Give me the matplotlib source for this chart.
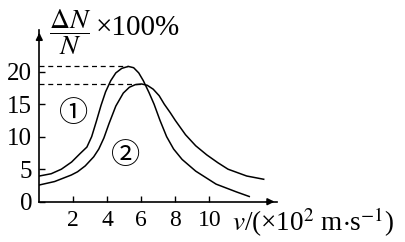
import matplotlib.pyplot as plt

plt.rcParams['font.family'] = ['Liberation Serif', 'DejaVu Serif']
plt.rcParams['mathtext.fontset'] = 'stix'

# values (v in 10^2 m/s, share in %)
v1 = [0, 0.7, 1.3, 1.9, 2.4, 2.8, 3.08, 3.35, 3.63, 3.9, 4.2, 4.5, 4.85, 5.24,
      5.55, 5.85, 6.12, 6.45, 6.75, 7.1, 7.49, 7.9, 8.4, 9.2, 10.4, 11.6, 12.35]
f1 = [3.95, 4.3, 5.0, 6.1, 7.4, 8.4, 10.0, 12.3, 14.8, 16.9, 18.6, 19.8, 20.5, 20.8,
      20.6, 19.8, 18.6, 16.8, 15.0, 12.5, 10.0, 8.1, 6.5, 4.7, 2.7, 1.5, 0.8]

v2 = [0, 0.9, 1.88, 2.25, 2.7, 3.2, 3.5, 3.8, 4.1, 4.5, 4.94, 5.3, 5.65, 6.02,
      6.35, 6.7, 7.05, 7.35, 7.7, 8.0, 8.6, 9.2, 9.85, 10.5, 11.1, 12.2, 13.2]
f2 = [2.57, 3.1, 4.1, 4.6, 5.5, 6.9, 8.1, 9.8, 12.0, 14.7, 16.7, 17.6, 18.0, 18.1,
      17.9, 17.3, 16.3, 15.0, 13.7, 12.5, 10.3, 8.6, 7.2, 6.0, 5.0, 3.95, 3.45]

x_ticks = [2, 4, 6, 8, 10]
y_ticks = [0, 5, 10, 15, 20]

fig = plt.figure(figsize=(4.06, 2.42), dpi=100)
ax = fig.add_axes([39.3 / 406, 40.3 / 242, 238 / 406, 171.7 / 242])
ax.set_xlim(0, 14)
ax.set_ylim(0, 26.4)

ax.plot(v1, f1, color='black', lw=1.1, solid_joinstyle='round')
ax.plot(v2, f2, color='black', lw=1.1, solid_joinstyle='round')

# dashed guides to the peaks
p1 = f1.index(max(f1))
p2 = f2.index(max(f2))
ax.plot([0, v1[p1]], [f1[p1], f1[p1]], color='black', lw=0.9, dashes=(4, 3))
ax.plot([0, v2[p2]], [f2[p2], f2[p2]], color='black', lw=0.9, dashes=(4, 3))

for s in ['top', 'right']:
    ax.spines[s].set_visible(False)
for s in ['left', 'bottom']:
    ax.spines[s].set_linewidth(1.2)

# axis arrows
ax.annotate('', xy=(14, 0), xytext=(13.2, 0), annotation_clip=False,
            arrowprops=dict(arrowstyle='-|>', color='black', lw=1.2, mutation_scale=10))
ax.annotate('', xy=(0, 26.4), xytext=(0, 25), annotation_clip=False,
            arrowprops=dict(arrowstyle='-|>', color='black', lw=1.2, mutation_scale=10))

ax.set_xticks(x_ticks)
ax.set_yticks(y_ticks)
ax.set_yticklabels([str(t) for t in y_ticks])
ax.tick_params(direction='in', length=4, width=1.0)
ax.tick_params(axis='x', pad=6, labelsize=17)
ax.tick_params(axis='y', pad=5, labelsize=18)

ax.text(2.04, 13.5, '①', fontsize=21, ha='center', va='center',
        family=['Noto Sans CJK SC', 'DejaVu Sans'])
ax.text(5.1, 7.1, '②', fontsize=21, ha='center', va='center',
        family=['Noto Sans CJK SC', 'DejaVu Sans'])

fig.text(232 / 406, 1 - 222 / 242, r'$v$/(×10$^2$ m$\cdot$s$^{-1}$)', fontsize=19.5,
         ha='left', va='center')
fig.text(70 / 406, 1 - 32 / 242, r'$\dfrac{\Delta N}{N}$', fontsize=20,
         ha='center', va='center')
fig.text(96 / 406, 1 - 28 / 242, '×100%', fontsize=21, ha='left', va='center')

fig.savefig('out.png', dpi=100)
